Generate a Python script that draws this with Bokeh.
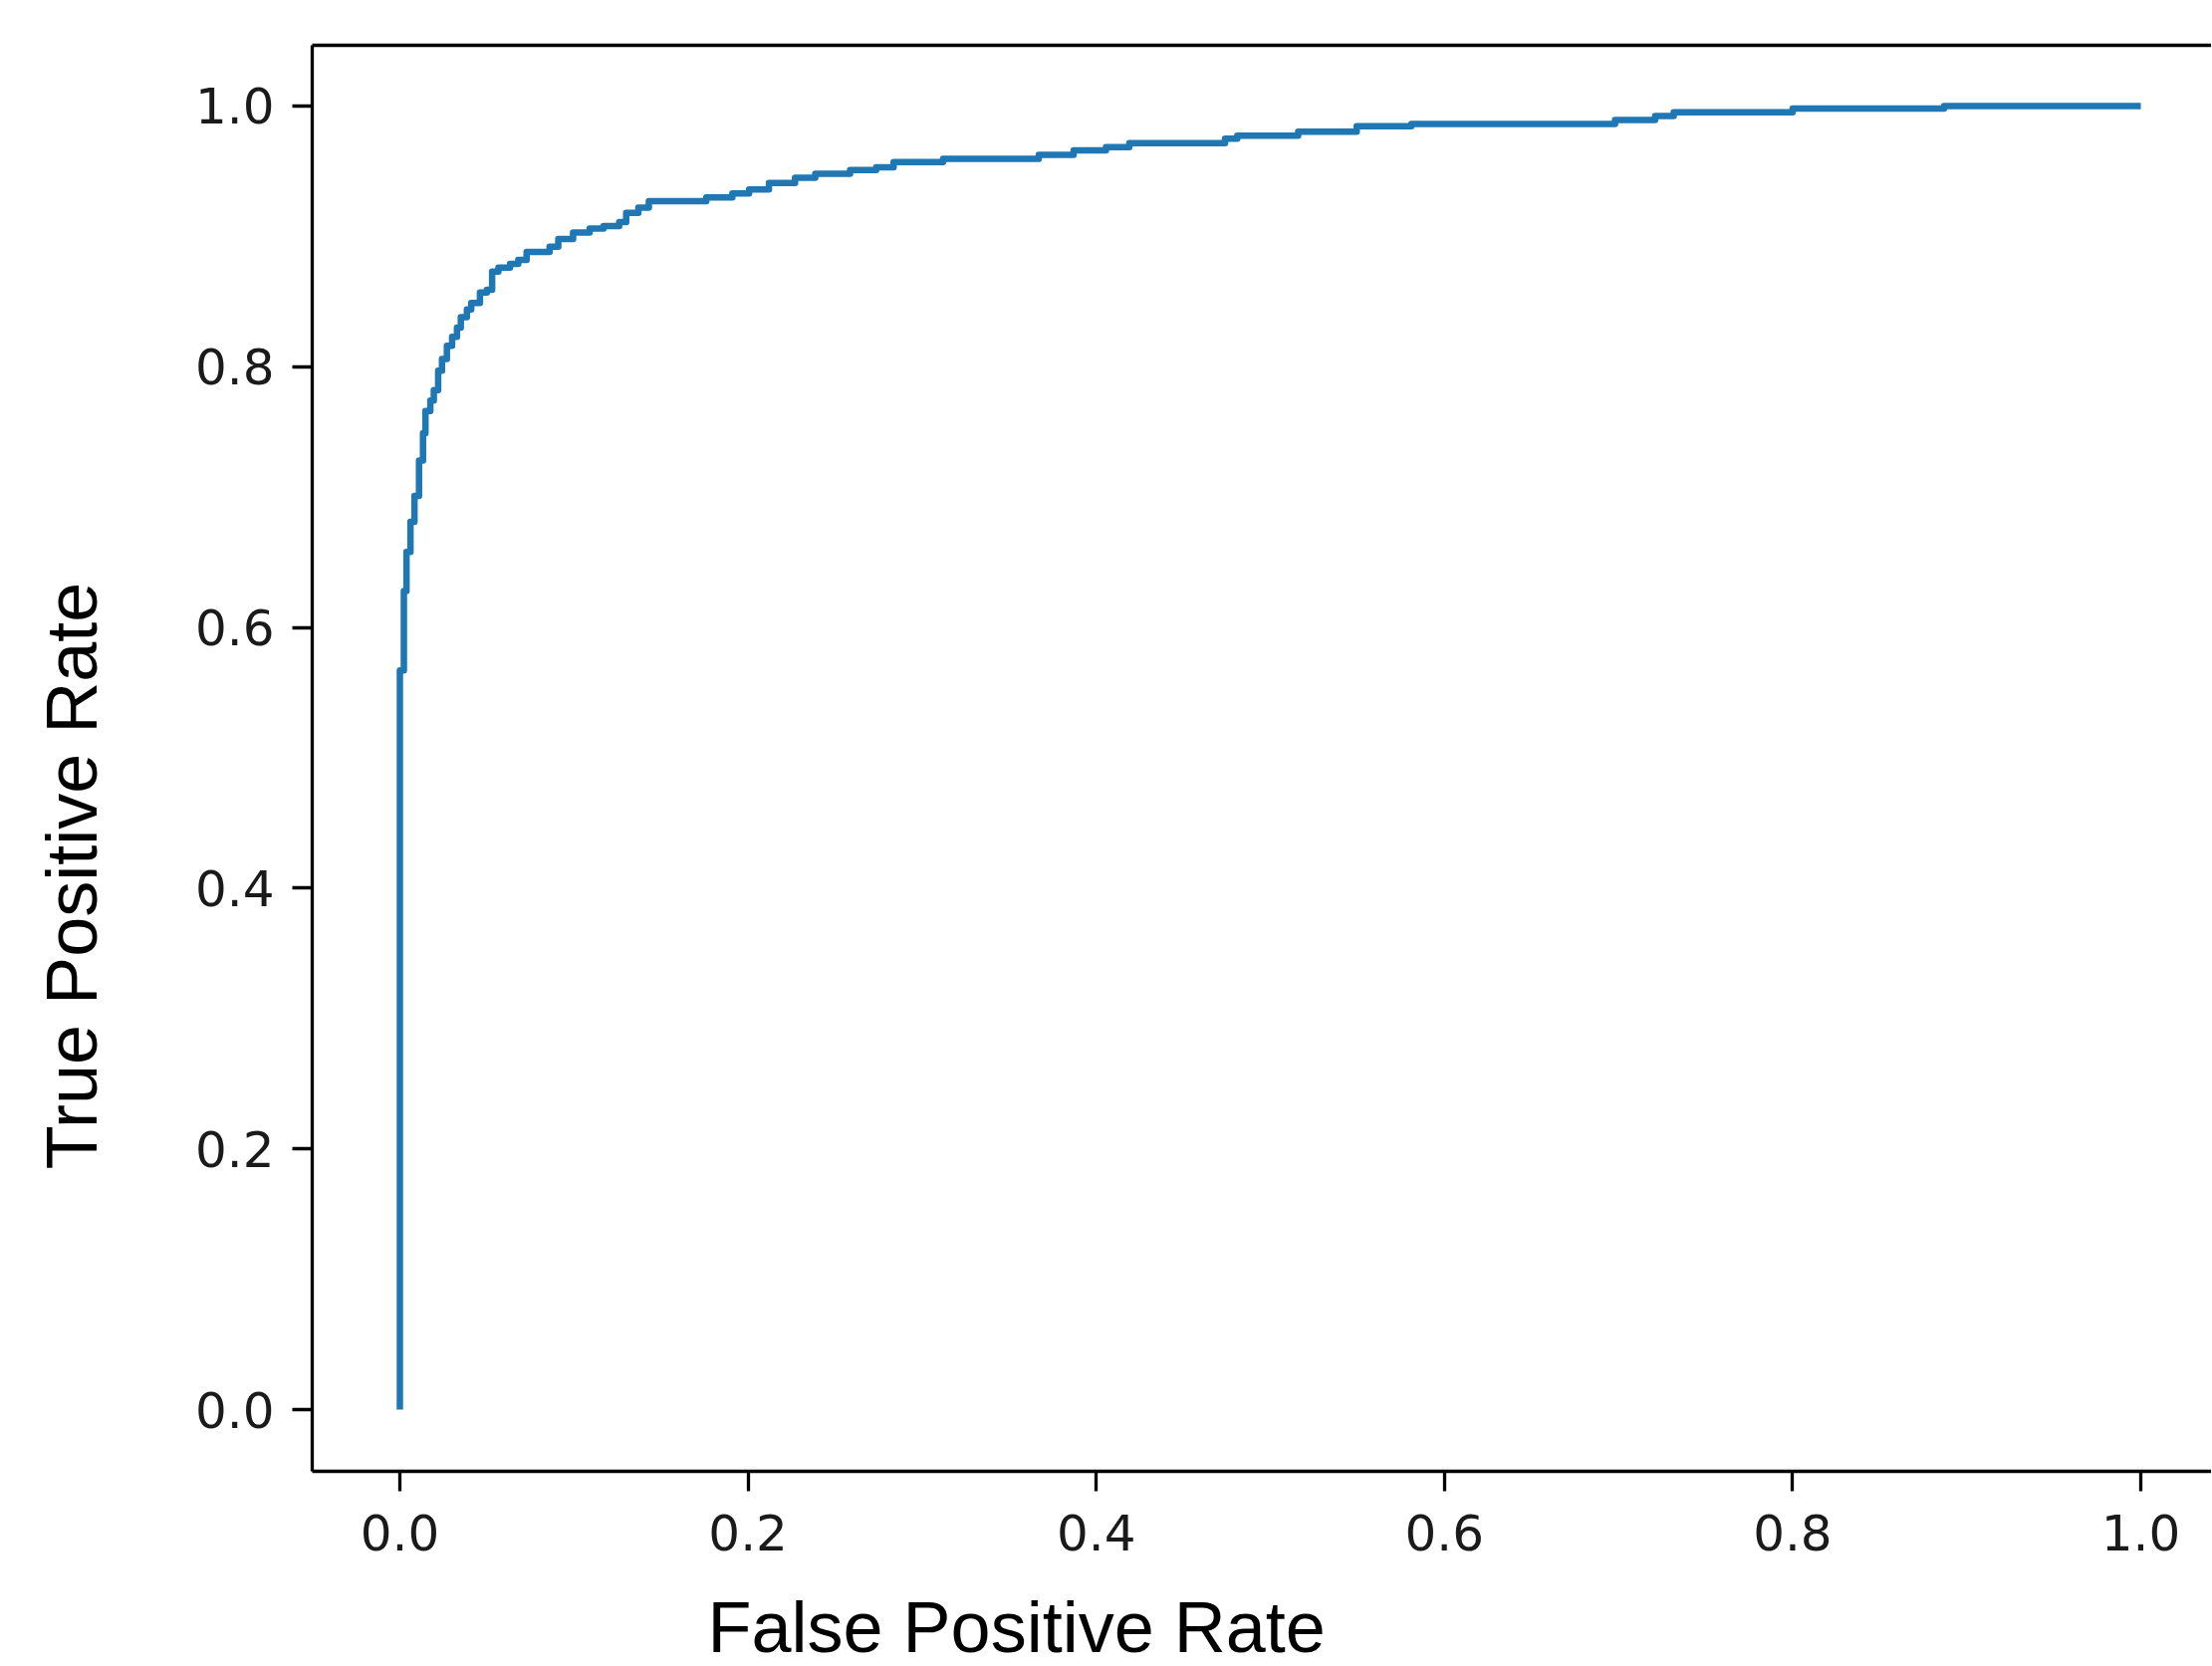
import math
from bokeh.plotting import figure
from bokeh.models import Range1d, LinearAxis, FixedTicker, PrintfTickFormatter
from bokeh.layouts import column, row
from bokeh.core.properties import value
from bokeh.embed import file_html
from bokeh.resources import INLINE

# ROC curve data (riser x, riser top)
fpr = [0.000, 0.000, 0.0023, 0.0038, 0.0061, 0.0084, 0.011, 0.0133, 0.0147, 0.0175,
       0.0195, 0.022, 0.0242, 0.027, 0.030, 0.0328, 0.035, 0.0385, 0.041, 0.046,
       0.050, 0.053, 0.0566, 0.0633, 0.068, 0.0728, 0.086, 0.091, 0.0995, 0.109,
       0.117, 0.126, 0.130, 0.137, 0.143, 0.176, 0.191, 0.2006, 0.212, 0.227,
       0.2386, 0.2586, 0.2736, 0.2836, 0.312, 0.367, 0.387, 0.4056, 0.419, 0.474,
       0.481, 0.516, 0.5496, 0.581, 0.698, 0.721, 0.7317, 0.800, 0.887, 1.000]
tpr = [0.000, 0.567, 0.628, 0.658, 0.681, 0.701, 0.728, 0.749, 0.766, 0.774,
       0.782, 0.797, 0.806, 0.816, 0.823, 0.830, 0.838, 0.844, 0.849, 0.857,
       0.859, 0.873, 0.876, 0.879, 0.882, 0.888, 0.892, 0.898, 0.903, 0.906,
       0.908, 0.911, 0.918, 0.922, 0.927, 0.930, 0.933, 0.936, 0.941, 0.945,
       0.948, 0.951, 0.953, 0.957, 0.9595, 0.9626, 0.966, 0.9684, 0.9715, 0.975,
       0.9773, 0.9804, 0.9845, 0.9862, 0.9893, 0.9924, 0.9952, 0.998, 1.000, 1.000]

tick_values = [0.0, 0.2, 0.4, 0.6, 0.8, 1.0]
x_label_text = "False Positive Rate"
y_label_text = "True Positive Rate"

LABEL_W = 130      # strip holding the y-axis title
MAIN_H = 1582      # height of the main chart
BOTTOM_H = 90      # strip holding the x-axis title
TOTAL_W = 2220


def blank_fig(w, h, xr, yr):
    f = figure(width=w, height=h, output_backend="svg", toolbar_location=None,
               x_range=xr, y_range=yr, min_border=0,
               x_axis_location=None, y_axis_location=None)
    f.outline_line_color = None
    f.grid.visible = False
    f.background_fill_color = "white"
    f.border_fill_color = "white"
    return f


p = figure(width=TOTAL_W - LABEL_W, height=MAIN_H, output_backend="svg", toolbar_location=None,
           x_range=Range1d(-0.05034, 1.0406), y_range=Range1d(-0.04736, 1.0466),
           min_border_left=313 - LABEL_W, min_border_right=0, min_border_top=45,
           min_border_bottom=MAIN_H - 1477,
           x_axis_location=None, y_axis_location=None)
p.outline_line_color = None
p.grid.visible = False
p.background_fill_color = "white"
p.border_fill_color = "white"


def style_axis(ax, standoff):
    ax.ticker = FixedTicker(ticks=tick_values)
    ax.formatter = PrintfTickFormatter(format="%.1f")
    ax.axis_line_width = 3.3
    ax.axis_line_color = "black"
    ax.major_tick_line_width = 3.3
    ax.major_tick_line_color = "black"
    ax.major_tick_out = 20
    ax.major_tick_in = 0
    ax.minor_tick_line_color = None
    ax.major_label_text_font = "DejaVu Sans"
    ax.major_label_text_font_size = "50px"
    ax.major_label_text_color = "#1a1a1a"
    ax.major_label_standoff = standoff


xaxis = LinearAxis()
style_axis(xaxis, 23)
p.add_layout(xaxis, "below")

yaxis = LinearAxis()
style_axis(yaxis, 18)
p.add_layout(yaxis, "left")

top = LinearAxis(ticker=FixedTicker(ticks=[]))
top.axis_line_width = 3.3
top.axis_line_color = "black"
top.major_tick_line_color = None
top.minor_tick_line_color = None
top.major_label_text_font_size = "0px"
p.add_layout(top, "above")

p.step(fpr, tpr, mode="after", line_width=6.5, line_color="#1f77b4", line_join="round")

# y-axis title strip (coordinates = pixels, y measured from the top)
pl = blank_fig(LABEL_W, MAIN_H, Range1d(0, LABEL_W), Range1d(MAIN_H, 0))
pl.text(x=[71], y=[1247], text=[y_label_text], angle=math.pi / 2,
        text_font=value("Liberation Sans"), text_font_size=value("72px"),
        text_align="left", text_baseline="alphabetic", text_color="black")

# x-axis title strip
pb = blank_fig(TOTAL_W, BOTTOM_H, Range1d(0, TOTAL_W), Range1d(BOTTOM_H, 0))
pb.text(x=[710], y=[51], text=[x_label_text],
        text_font=value("Liberation Sans"), text_font_size=value("72px"),
        text_align="left", text_baseline="alphabetic", text_color="black")

layout = column(row(pl, p, spacing=0), pb, spacing=0)

open("out.html", "w").write(file_html(layout, INLINE))
